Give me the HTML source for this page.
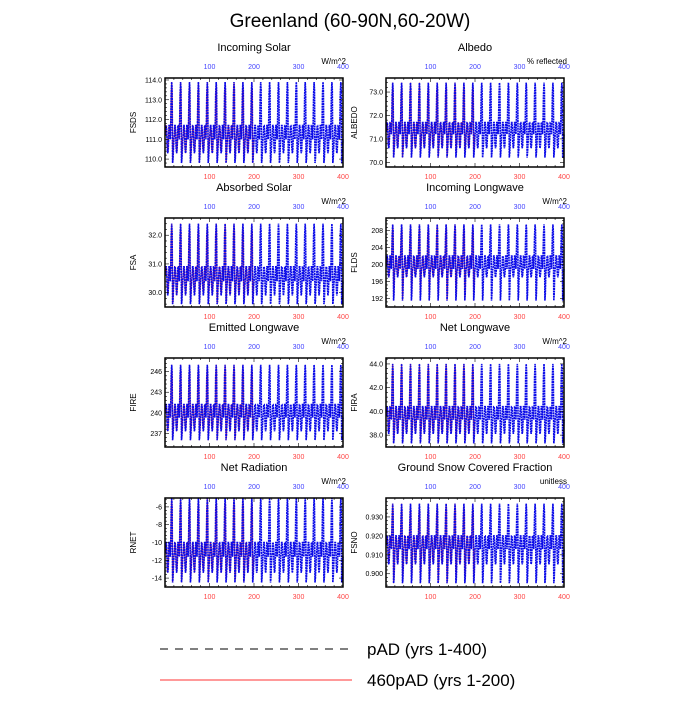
<!DOCTYPE html>
<html><head><meta charset="utf-8"><style>
body{margin:0;background:#fff;font-family:"Liberation Sans",sans-serif}
svg text{font-family:"Liberation Sans",sans-serif}
</style></head><body>
<svg id="c" width="700" height="700" xmlns="http://www.w3.org/2000/svg">
<text x="350" y="27" text-anchor="middle" font-size="19">Greenland (60-90N,60-20W)</text>
<g>
<line x1="160" y1="649" x2="352" y2="649" stroke="#000" stroke-dasharray="8,7" stroke-width="1"/>
<text x="367" y="655" font-size="17">pAD (yrs 1-400)</text>
<line x1="160" y1="680" x2="352" y2="680" stroke="#f33" stroke-width="1"/>
<text x="367" y="686" font-size="17">460pAD (yrs 1-200)</text>
</g>
</svg>
<script>
const panelTitles=["Incoming Solar","Albedo","Absorbed Solar","Incoming Longwave","Emitted Longwave","Net Longwave","Net Radiation","Ground Snow Covered Fraction"];
const varNames=["FSDS","ALBEDO","FSA","FLDS","FIRE","FIRA","RNET","FSNO"];
const units=["W/m^2","% reflected","W/m^2","W/m^2","W/m^2","W/m^2","W/m^2","unitless"];
const yMin=[109.6,69.8,29.5,190,235,37,-15,0.893];
const yMax=[114.1,73.6,32.6,211,248,44.5,-5,0.94];
const yTicks=[[110,111,112,113,114],[70,71,72,73],[30,31,32],[192,196,200,204,208],[237,240,243,246],[38,40,42,44],[-14,-12,-10,-8,-6],[0.9,0.91,0.92,0.93]];
const yDec=[1,1,1,0,0,1,0,3];
const xTicks=[100,200,300,400];
const cycleFSDS=[111.0,111.2,111.7,111.7,111.4,110.6,110.3,110.4,111.0,111.7,111.7,111.4,111.0,111.9,113.3,113.9,113.5,109.8,110.0,110.6];
const cycleALBEDO=[71.2,71.3,71.7,71.7,71.5,70.8,70.6,70.7,71.2,71.7,71.7,71.5,71.2,71.8,72.9,73.4,73.1,70.2,70.4,70.8];
const cycleFSA=[30.4,30.6,30.9,30.9,30.7,30.2,29.9,30.0,30.4,30.9,30.9,30.7,30.4,31.0,32.0,32.4,32.1,29.6,29.7,30.2];
const cycleFLDS=[199,199.5,202,202,201,198,197,197.5,199,202,202,201,199,202.5,207,209.5,208,191.5,193,198];
const cycleFIRE=[239.3,239.9,241.2,241.2,240.4,238.2,237.3,237.7,239.3,241.2,241.2,240.4,239.3,241.5,245.4,247,245.9,236,236.6,238.2];
const cycleFIRA=[39.3,39.6,40.4,40.4,40.0,38.6,38.1,38.3,39.3,40.4,40.4,40.0,39.3,40.7,43.0,44.0,43.3,37.3,37.6,38.6];
const cycleRNET=[-11.6,-11.2,-10.0,-10.0,-10.7,-12.6,-13.4,-13.1,-11.6,-10.0,-10.0,-10.7,-11.6,-9.8,-6.4,-5.0,-6.0,-14.5,-14.0,-12.6];
const cycleFSNO=[0.913,0.915,0.920,0.920,0.917,0.908,0.905,0.906,0.913,0.920,0.920,0.917,0.913,0.921,0.931,0.937,0.933,0.895,0.897,0.906];
const cycles=[cycleFSDS,cycleALBEDO,cycleFSA,cycleFLDS,cycleFIRE,cycleFIRA,cycleRNET,cycleFSNO];
const yearsPAD=400, years460=200;
const NS="http://www.w3.org/2000/svg";
const svg=document.getElementById('c');
function mk(t,a,p){const e=document.createElementNS(NS,t);for(const k in a)e.setAttribute(k,a[k]);(p||svg).appendChild(e);return e;}
const colX=[165,386], W=178, H=89, rowY=[78,218,358,498];
for(let i=0;i<8;i++){
  const L=colX[i%2], T=rowY[Math.floor(i/2)], B=T+H, R=L+W;
  const xs=v=>L+v/400*W;
  const ys=v=>B-(v-yMin[i])/(yMax[i]-yMin[i])*H;
  const g=mk('g',{});
  
  
  const tt=mk('text',{x:(L+R)/2,y:T-27,'text-anchor':'middle','font-size':11},g);tt.textContent=panelTitles[i];
  
  
  const ut=mk('text',{x:R+3,y:T-14,'text-anchor':'end','font-size':8},g);ut.textContent=units[i];
  
  
  const yl=mk('text',{x:0,y:0,'text-anchor':'middle','font-size':8,transform:`translate(${L-29},${(T+B)/2}) rotate(-90)`},g);yl.textContent=varNames[i];
  
  
  const cyc=cycles[i];
  let pr='';for(let y=1;y<=years460;y++){const v=cyc[y%cyc.length];pr+=(y==1?'M':'L')+xs(y).toFixed(1)+','+ys(v).toFixed(1);}
  const lr=mk('path',{d:pr,fill:'none',stroke:'#e22','stroke-width':0.8},g);
  
  
  let pb='';for(let y=1;y<=yearsPAD;y++){const v=cyc[y%cyc.length];pb+=(y==1?'M':'L')+xs(y).toFixed(1)+','+ys(v).toFixed(1);}
  const lb=mk('path',{d:pb,fill:'none',stroke:'#0a0ae8','stroke-width':1.6,'stroke-dasharray':'2,0.6'},g);
  
  
  const fr=mk('rect',{x:L,y:T,width:W,height:H,fill:'none',stroke:'#000','stroke-width':1.5},g);
  
  
  for(let v=0;v<=400;v+=20){const x=xs(v),len=v%100==0?4:2;
    mk('line',{x1:x,y1:B,x2:x,y2:B-len,stroke:'#000','stroke-width':0.6},g);
    mk('line',{x1:x,y1:T,x2:x,y2:T+len,stroke:'#000','stroke-width':0.6},g);}
  xTicks.forEach(v=>{
    const a=mk('text',{x:xs(v),y:B+12,'text-anchor':'middle','font-size':7,fill:'#f44'},g);a.textContent=v;
    
    
    const b=mk('text',{x:xs(v),y:T-9,'text-anchor':'middle','font-size':7,fill:'#44f'},g);b.textContent=v;
    
    
  });
  const tk=yTicks[i], st=(tk[1]-tk[0])/5;
  for(let v=tk[0]-5*st;v<=yMax[i]+1e-9;v+=st){if(v<yMin[i])continue;const y=ys(v);
    const major=tk.some(t=>Math.abs(t-v)<st/10), len=major?4:2;
    mk('line',{x1:L,y1:y,x2:L+len,y2:y,stroke:'#000','stroke-width':0.6},g);
    mk('line',{x1:R,y1:y,x2:R-len,y2:y,stroke:'#000','stroke-width':0.6},g);}
  tk.forEach(v=>{const t=mk('text',{x:L-3,y:ys(v)+2.5,'text-anchor':'end','font-size':7},g);t.textContent=v.toFixed(yDec[i]);
    
    });
}
</script>
</body></html>
